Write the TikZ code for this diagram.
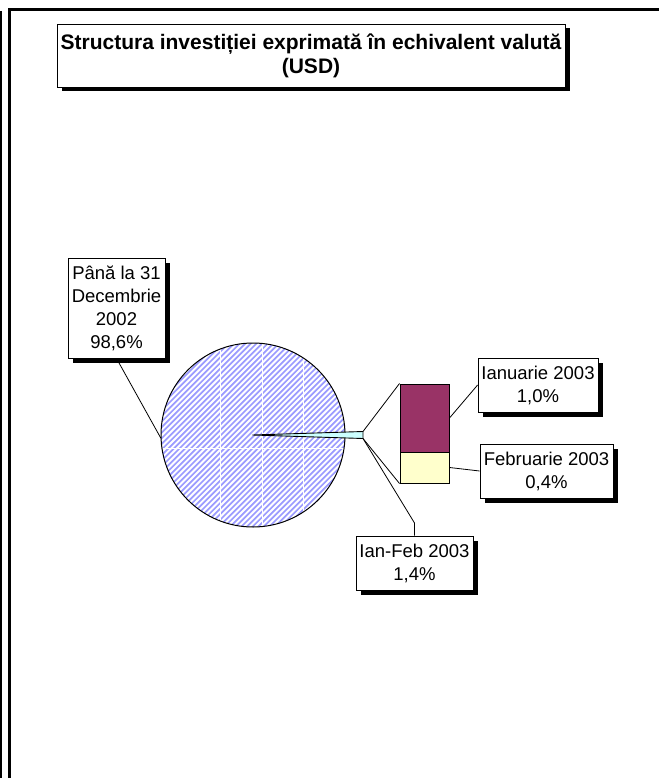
\documentclass[tikz,border=0pt]{standalone}
\usepackage{fontspec}
\setmainfont{Liberation Sans}
\usetikzlibrary{shadows}

\definecolor{pieblue}{RGB}{155,155,255}
\definecolor{sliceblue}{RGB}{204,255,255}
\definecolor{janred}{RGB}{153,51,102}
\definecolor{febyellow}{RGB}{255,255,204}

\begin{document}
\begin{tikzpicture}[x=1pt,y=-1pt,
  lbl/.style={draw, fill=white, line width=0.8pt, align=center, inner sep=0pt,
    font=\fontsize{18.5}{23}\selectfont,
    drop shadow={shadow xshift=4.5pt, shadow yshift=-4.5pt, opacity=1, fill=black}},
  barpart/.style={draw, line width=1pt, minimum width=49pt, inner sep=0pt}]

\useasboundingbox (0,0) rectangle (659,778);

% frame of the chart
\draw[line width=1.5pt] (1,11) -- (1,778);
\draw[line width=3pt] (9.5,778) -- (9.5,9.5) -- (659,9.5);

% define the title
\node[lbl, font=\fontsize{21}{24}\selectfont\bfseries,
  minimum width=508pt, minimum height=63pt] (title) at (311,55.5)
{Structura investiției exprimată în echivalent valută\\(USD)};

% define the pie
\node[circle, minimum size=184pt, inner sep=0pt] (pie) at (253,435) {};
\begin{scope}
  \clip (pie.center) circle (92pt);
  \foreach \t in {-200,-194.4,...,200}
    \draw[pieblue, line width=1.7pt] (253+\t-100,535) -- (253+\t+100,335);
  \draw[white, line width=0.6pt] (220,340) -- (220,530)
    (262,340) -- (262,530) (303,340) -- (303,530) (160,448) -- (346,448);
\end{scope}
\draw[line width=1pt] (pie.center) circle (92pt);
\filldraw[fill=sliceblue, line width=0.9pt]
  (252.5,435) -- (363,431.5) -- (363,438.5) -- cycle;
\coordinate (wup) at (363,431.5);
\coordinate (wdn) at (363,438.5);

% define the bar
\node[barpart, fill=janred, minimum height=68pt] (jan) at (424.5,418) {};
\node[barpart, fill=febyellow, minimum height=31pt] (feb) at (424.5,467.5) {};

% define the labels
\node[lbl, minimum width=97pt, minimum height=100pt] (pana) at (116.5,308)
{Până la 31\\Decembrie\\2002\\98,6\%};
\node[lbl, minimum width=120pt, minimum height=54pt] (ianbox) at (538,385)
{Ianuarie 2003\\1,0\%};
\node[lbl, minimum width=133pt, minimum height=54pt] (febbox) at (546.5,471)
{Februarie 2003\\0,4\%};
\node[lbl, minimum width=117pt, minimum height=54pt] (ianfeb) at (414.5,563)
{Ian-Feb 2003\\1,4\%};
\coordinate (knee) at (414.5,523);

% define the links
\path[line width=0.8pt] (wup) edge (jan.north west)
      (wdn) edge (feb.south west)
      (jan.east) edge (ianbox.west)
      (feb.east) edge (febbox.west)
      (pana.south) edge (pie.182);
\draw[line width=0.8pt] (wdn) -- (knee) -- (ianfeb.north);

\end{tikzpicture}
\end{document}
